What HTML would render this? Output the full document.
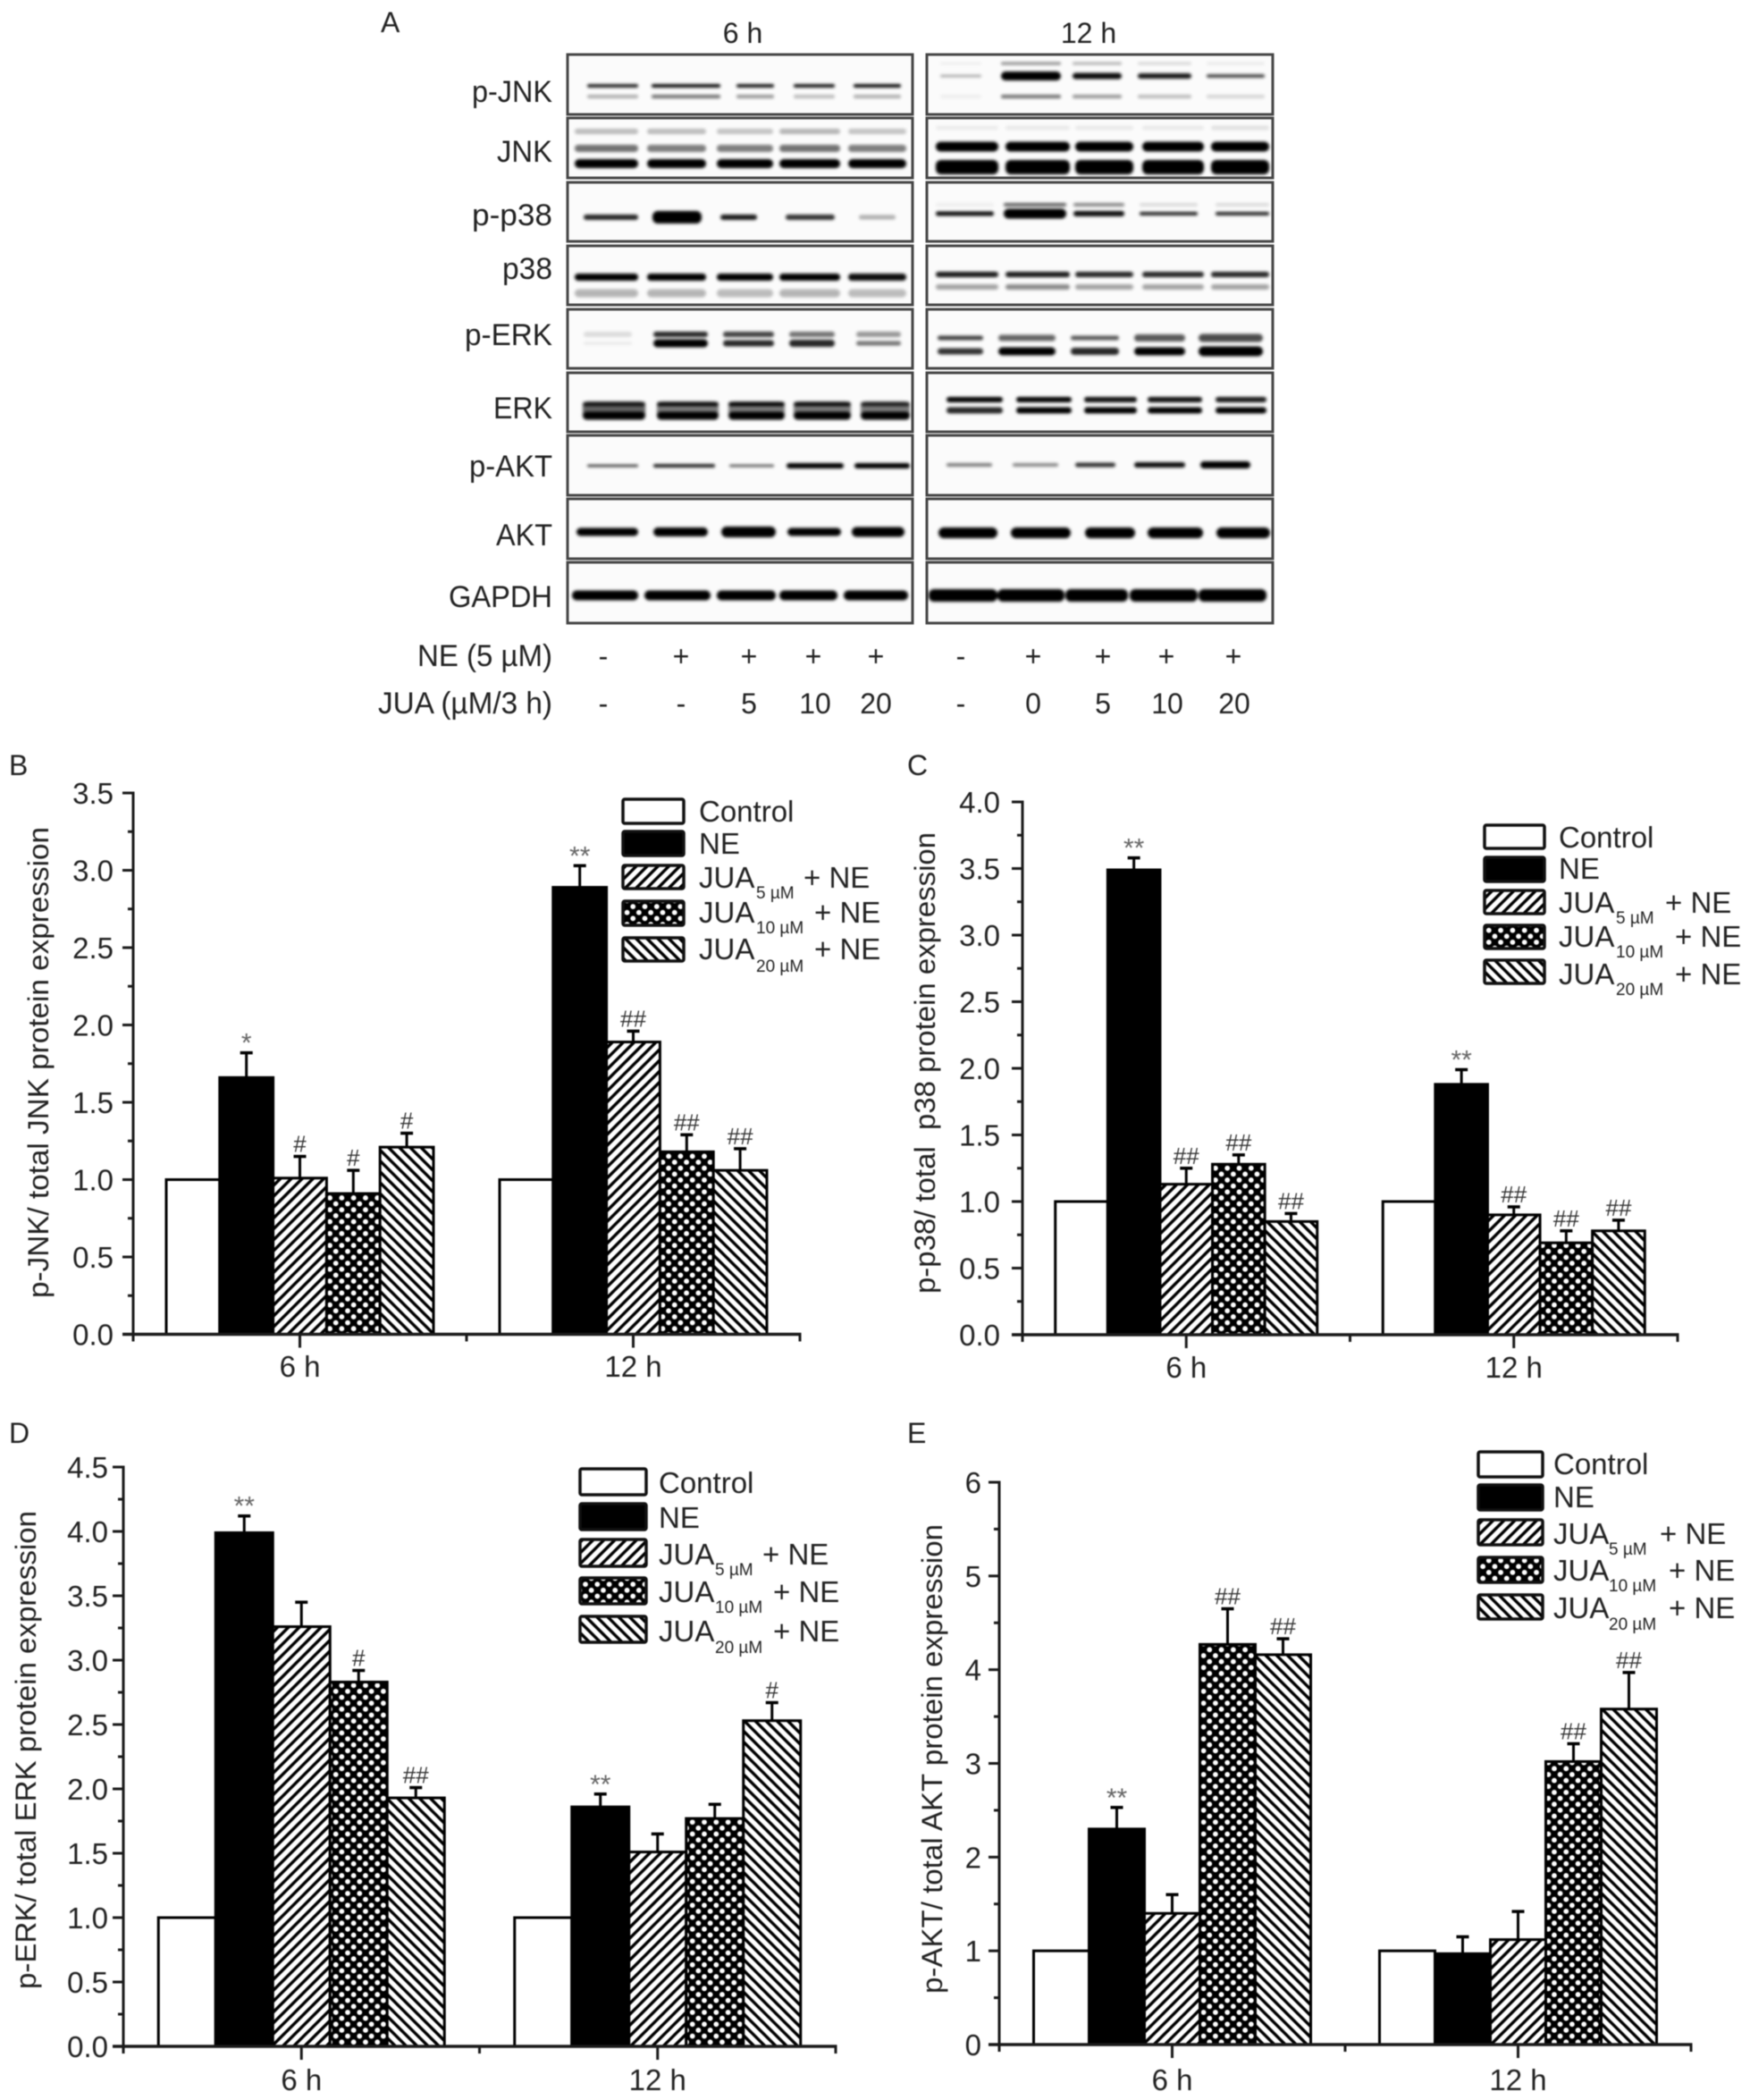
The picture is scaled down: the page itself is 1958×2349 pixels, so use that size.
<!DOCTYPE html>
<html lang="en">
<head>
<meta charset="utf-8">
<title>Western blots and protein expression bar charts</title>
<style>
html,body{margin:0;padding:0;background:#fff;}
svg{display:block;filter:blur(0.6px);}
text{font-family:"Liberation Sans",sans-serif;fill:#222;}
.t{font-size:33px;}
.s{font-size:19px;}
.b{font-size:32px;}
.r{font-size:34px;}
.f{fill:none;stroke:#444;stroke-width:3;}
.l{stroke:#111;stroke-width:3.5;}
.e{text-anchor:end;}
.m{text-anchor:middle;}
</style>
</head>
<body>
<svg id="figure" xmlns="http://www.w3.org/2000/svg" width="1958" height="2349" viewBox="0 0 1958 2349">
<defs>
<pattern id="hatch-up" width="8.6" height="8.6" patternUnits="userSpaceOnUse" patternTransform="rotate(45)"><rect width="8.6" height="8.6" fill="#fff"/><rect width="3.4" height="8.6" fill="#000"/></pattern>
<pattern id="hatch-down" width="8.6" height="8.6" patternUnits="userSpaceOnUse" patternTransform="rotate(-45)"><rect width="8.6" height="8.6" fill="#fff"/><rect width="3.4" height="8.6" fill="#000"/></pattern>
<pattern id="dots" width="13.3" height="13.3" patternUnits="userSpaceOnUse"><rect width="13.3" height="13.3" fill="#000"/><circle cx="3.3" cy="3.3" r="2.9" fill="#fff"/><circle cx="9.95" cy="9.95" r="2.9" fill="#fff"/></pattern>
<filter id="band-blur" x="-20%" y="-100%" width="140%" height="300%"><feGaussianBlur stdDeviation="1.7"/></filter>
</defs>
<rect width="1958" height="2349" fill="#fff"/>

<g>
<text class="b" x="426" y="36">A</text>
<text class="b m" x="831" y="48">6 h</text>
<text class="b m" x="1218" y="48">12 h</text>
<g id="blot-layer"></g>
<text class="r" x="528" y="114" textLength="90" lengthAdjust="spacingAndGlyphs">p-JNK</text>
<text class="r" x="556" y="181" textLength="62" lengthAdjust="spacingAndGlyphs">JNK</text>
<text class="r" x="528" y="252" textLength="90" lengthAdjust="spacingAndGlyphs">p-p38</text>
<text class="r" x="562" y="312" textLength="56" lengthAdjust="spacingAndGlyphs">p38</text>
<text class="r" x="520" y="386" textLength="98" lengthAdjust="spacingAndGlyphs">p-ERK</text>
<text class="r" x="552" y="468" textLength="66" lengthAdjust="spacingAndGlyphs">ERK</text>
<text class="r" x="525" y="533" textLength="93" lengthAdjust="spacingAndGlyphs">p-AKT</text>
<text class="r" x="555" y="610" textLength="63" lengthAdjust="spacingAndGlyphs">AKT</text>
<text class="r" x="502" y="679" textLength="116" lengthAdjust="spacingAndGlyphs">GAPDH</text>
<g class="b">
<text class="r" x="467" y="745" textLength="151" lengthAdjust="spacingAndGlyphs">NE (5 µM)</text>
<text class="b m" x="675" y="745">-</text>
<text class="b m" x="762" y="745">+</text>
<text class="b m" x="838" y="745">+</text>
<text class="b m" x="910" y="745">+</text>
<text class="b m" x="980" y="745">+</text>
<text class="b m" x="1075" y="745">-</text>
<text class="b m" x="1156" y="745">+</text>
<text class="b m" x="1234" y="745">+</text>
<text class="b m" x="1305" y="745">+</text>
<text class="b m" x="1380" y="745">+</text>
</g>
<g>
<text class="r" x="423" y="798" textLength="195" lengthAdjust="spacingAndGlyphs">JUA (µM/3 h)</text>
<text class="b m" x="675" y="798">-</text>
<text class="b m" x="762" y="798">-</text>
<text class="b m" x="838" y="798">5</text>
<text class="b m" x="912" y="798">10</text>
<text class="b m" x="980" y="798">20</text>
<text class="b m" x="1075" y="798">-</text>
<text class="b m" x="1156" y="798">0</text>
<text class="b m" x="1234" y="798">5</text>
<text class="b m" x="1306" y="798">10</text>
<text class="b m" x="1381" y="798">20</text>
</g>
</g>

<g id="chart-jnk">
<text class="b" x="10" y="867">B</text>
<text class="b" transform="translate(54,1452) rotate(-90)" textLength="527" lengthAdjust="spacingAndGlyphs">p-JNK/ total JNK protein expression</text>
</g>
<g>
<g><rect class="l" x="697" y="894" width="68" height="27" rx="2" fill="#fff"/><text class="t" x="782" y="919">Control</text></g>
<g><rect class="l" x="697" y="930" width="68" height="27" rx="2" fill="#000"/><text class="t" x="782" y="955">NE</text></g>
<g><rect class="l" x="697" y="968" width="68" height="26" rx="2" fill="url(#hatch-up)"/><text class="t" x="782" y="993">JUA</text><text class="s" x="846" y="1005">5 µM</text><text class="t" x="899" y="993">+ NE</text></g>
<g><rect class="l" x="697" y="1008" width="68" height="27" rx="2" fill="url(#dots)"/><text class="t" x="782" y="1032">JUA</text><text class="s" x="846" y="1044">10 µM</text><text class="t" x="911" y="1032">+ NE</text></g>
<g><rect class="l" x="697" y="1049" width="68" height="26" rx="2" fill="url(#hatch-down)"/><text class="t" x="782" y="1073">JUA</text><text class="s" x="846" y="1087">20 µM</text><text class="t" x="911" y="1073">+ NE</text></g>
</g>

<g id="chart-p38">
<text class="b" x="1015" y="867">C</text>
<text class="b" style="white-space:pre" transform="translate(1046,1447) rotate(-90)" textLength="516" lengthAdjust="spacingAndGlyphs">p-p38/ total  p38 protein expression</text>
</g>
<g>
<g><rect class="l" x="1661" y="923" width="67" height="26" rx="2" fill="#fff"/><text class="t" x="1744" y="948">Control</text></g>
<g><rect class="l" x="1661" y="959" width="67" height="27" rx="2" fill="#000"/><text class="t" x="1744" y="983">NE</text></g>
<g><rect class="l" x="1661" y="996" width="67" height="26" rx="2" fill="url(#hatch-up)"/><text class="t" x="1744" y="1021">JUA</text><text class="s" x="1808" y="1033">5 µM</text><text class="t" x="1863" y="1021">+ NE</text></g>
<g><rect class="l" x="1661" y="1035" width="67" height="26" rx="2" fill="url(#dots)"/><text class="t" x="1744" y="1059">JUA</text><text class="s" x="1808" y="1071">10 µM</text><text class="t" x="1874" y="1059">+ NE</text></g>
<g><rect class="l" x="1661" y="1074" width="67" height="26" rx="2" fill="url(#hatch-down)"/><text class="t" x="1744" y="1101">JUA</text><text class="s" x="1808" y="1113">20 µM</text><text class="t" x="1874" y="1101">+ NE</text></g>
</g>

<g id="chart-erk">
<text class="b" x="10" y="1614">D</text>
<text class="b" transform="translate(40,2225) rotate(-90)" textLength="535" lengthAdjust="spacingAndGlyphs">p-ERK/ total ERK protein expression</text>
</g>
<g>
<g><rect class="l" x="649" y="1643" width="74" height="29" rx="2" fill="#fff"/><text class="t" x="737" y="1670">Control</text></g>
<g><rect class="l" x="649" y="1682" width="74" height="29" rx="2" fill="#000"/><text class="t" x="737" y="1709">NE</text></g>
<g><rect class="l" x="649" y="1722" width="74" height="30" rx="2" fill="url(#hatch-up)"/><text class="t" x="737" y="1750">JUA</text><text class="s" x="800" y="1762">5 µM</text><text class="t" x="853" y="1750">+ NE</text></g>
<g><rect class="l" x="649" y="1765" width="74" height="29" rx="2" fill="url(#dots)"/><text class="t" x="737" y="1792">JUA</text><text class="s" x="800" y="1804">10 µM</text><text class="t" x="865" y="1792">+ NE</text></g>
<g><rect class="l" x="649" y="1808" width="74" height="29" rx="2" fill="url(#hatch-down)"/><text class="t" x="737" y="1836">JUA</text><text class="s" x="800" y="1849">20 µM</text><text class="t" x="865" y="1836">+ NE</text></g>
</g>

<g id="chart-akt">
<text class="b" x="1015" y="1614">E</text>
<text class="b" transform="translate(1054,2230) rotate(-90)" textLength="525" lengthAdjust="spacingAndGlyphs">p-AKT/ total AKT protein expression</text>
</g>
<g>
<g><rect class="l" x="1654" y="1624" width="72" height="28" rx="2" fill="#fff"/><text class="t" x="1738" y="1649">Control</text></g>
<g><rect class="l" x="1654" y="1661" width="72" height="28" rx="2" fill="#000"/><text class="t" x="1738" y="1686">NE</text></g>
<g><rect class="l" x="1654" y="1700" width="72" height="28" rx="2" fill="url(#hatch-up)"/><text class="t" x="1738" y="1727">JUA</text><text class="s" x="1800" y="1739">5 µM</text><text class="t" x="1857" y="1727">+ NE</text></g>
<g><rect class="l" x="1654" y="1742" width="72" height="28" rx="2" fill="url(#dots)"/><text class="t" x="1738" y="1768">JUA</text><text class="s" x="1800" y="1780">10 µM</text><text class="t" x="1867" y="1768">+ NE</text></g>
<g><rect class="l" x="1654" y="1784" width="72" height="27" rx="2" fill="url(#hatch-down)"/><text class="t" x="1738" y="1810">JUA</text><text class="s" x="1800" y="1823">20 µM</text><text class="t" x="1867" y="1810">+ NE</text></g>
</g>
</svg>

<script>
// Bar chart data: [6 h group, 12 h group], series order Control, NE, JUA 5, JUA 10, JUA 20
const groupLabels = ['6 h', '12 h'];
const seriesNames = ['control', 'ne', 'jua-5', 'jua-10', 'jua-20'];

const jnkTickLabels = ['0.0', '0.5', '1.0', '1.5', '2.0', '2.5', '3.0', '3.5'];
const jnkMeans6h = [1, 1.66, 1.01, 0.91, 1.21];
const jnkMeans12h = [1, 2.89, 1.89, 1.18, 1.06];
const jnkErrors6h = [0, 0.16, 0.14, 0.15, 0.09];
const jnkErrors12h = [0, 0.14, 0.07, 0.11, 0.14];
const jnkMarks6h = ['', '*', '#', '#', '#'];
const jnkMarks12h = ['', '**', '##', '##', '##'];

const p38TickLabels = ['0.0', '0.5', '1.0', '1.5', '2.0', '2.5', '3.0', '3.5', '4.0'];
const p38Means6h = [1, 3.49, 1.13, 1.28, 0.85];
const p38Means12h = [1, 1.88, 0.90, 0.69, 0.78];
const p38Errors6h = [0, 0.09, 0.12, 0.07, 0.06];
const p38Errors12h = [0, 0.11, 0.06, 0.09, 0.08];
const p38Marks6h = ['', '**', '##', '##', '##'];
const p38Marks12h = ['', '**', '##', '##', '##'];

const erkTickLabels = ['0.0', '0.5', '1.0', '1.5', '2.0', '2.5', '3.0', '3.5', '4.0', '4.5'];
const erkMeans6h = [1, 3.99, 3.26, 2.83, 1.93];
const erkMeans12h = [1, 1.86, 1.51, 1.77, 2.53];
const erkErrors6h = [0, 0.13, 0.19, 0.09, 0.08];
const erkErrors12h = [0, 0.10, 0.14, 0.11, 0.14];
const erkMarks6h = ['', '**', '', '#', '##'];
const erkMarks12h = ['', '**', '', '', '#'];

const aktTickLabels = ['0', '1', '2', '3', '4', '5', '6'];
const aktMeans6h = [1, 2.30, 1.40, 4.27, 4.16];
const aktMeans12h = [1, 0.97, 1.12, 3.02, 3.58];
const aktErrors6h = [0, 0.23, 0.20, 0.38, 0.17];
const aktErrors12h = [0, 0.18, 0.30, 0.19, 0.39];
const aktMarks6h = ['', '**', '', '##', '##'];
const aktMarks12h = ['', '', '', '##', '##'];

const seriesFills = ['#fff', '#000', 'url(#hatch-up)', 'url(#dots)', 'url(#hatch-down)'];

const SVGNS = 'http://www.w3.org/2000/svg';
function make(parent, tag, props) {
  const node = document.createElementNS(SVGNS, tag);
  for (const key in props) node.setAttribute(key, props[key]);
  parent.appendChild(node);
  return node;
}

function drawChart(cfg) {
  const root = document.getElementById(cfg.id);
  const yScale = v => cfg.y0 - (v / cfg.yMax) * (cfg.y0 - cfg.yTop);
  const xScale = i => cfg.left + (i + 0.5) * (cfg.right - cfg.left) / groupLabels.length;
  const ink = '#1a1a1a';

  groupLabels.forEach((label, g) => {
    const centre = xScale(g);
    const means = cfg.means[g];
    const errors = cfg.errors[g];
    const marks = cfg.marks[g];
    means.forEach((value, s) => {
      const x = centre + (s - 2.5) * cfg.barW;
      const bar = make(root, 'rect', { x: x, y: yScale(value), width: cfg.barW, height: cfg.y0 - yScale(value), fill: seriesFills[s], stroke: '#000', 'stroke-width': 3 });
      
      
    });
    means.forEach((value, s) => {
      const cx = centre + (s - 2) * cfg.barW;
      const capY = yScale(value + errors[s]);
      if (errors[s] > 0) {
        const stem = make(root, 'line', { x1: cx, x2: cx, y1: yScale(value), y2: capY, stroke: '#000', 'stroke-width': 3 });
        
        
        const cap = make(root, 'line', { x1: cx - 7, x2: cx + 7, y1: capY, y2: capY, stroke: '#000', 'stroke-width': 3.5 });
        
        
      }
      if (marks[s]) {
        const isStar = marks[s].charAt(0) === '*';
        const mark = make(root, 'text', { x: cx, y: isStar ? capY - 1 : capY - 5, 'text-anchor': 'middle', 'font-size': isStar ? 30 : 26 });
        
        
        mark.style.fill = isStar ? '#666' : '#333';
        mark.textContent = marks[s];
      }
    });
    const tick = make(root, 'line', { x1: centre, x2: centre, y1: cfg.y0, y2: cfg.y0 + 15, stroke: ink, 'stroke-width': 3 });
    
    
    const text = make(root, 'text', { x: centre, y: cfg.xLabelY, 'text-anchor': 'middle', 'font-size': 33 });
    
    
    text.textContent = label;
  });

  [cfg.left, (cfg.left + cfg.right) / 2, cfg.right].forEach(x => {
    const minor = make(root, 'line', { x1: x, x2: x, y1: cfg.y0, y2: cfg.y0 + 8, stroke: ink, 'stroke-width': 3 });
    
    
  });

  cfg.ticks.forEach((label, i) => {
    const value = parseFloat(label);
    const y = yScale(value);
    const major = make(root, 'line', { x1: cfg.left - 12, x2: cfg.left, y1: y, y2: y, stroke: ink, 'stroke-width': 3 });
    
    
    const text = make(root, 'text', { x: cfg.labelX, y: y + 12, 'text-anchor': 'end', 'font-size': 33 });
    
    
    text.textContent = label;
    if (i < cfg.ticks.length - 1) {
      const yMinor = yScale((value + parseFloat(cfg.ticks[i + 1])) / 2);
      const minor = make(root, 'line', { x1: cfg.left - 6, x2: cfg.left, y1: yMinor, y2: yMinor, stroke: ink, 'stroke-width': 3 });
      
      
    }
  });

  const yAxis = make(root, 'line', { x1: cfg.left, x2: cfg.left, y1: cfg.yTop - 1.5, y2: cfg.y0 + 1.5, stroke: ink, 'stroke-width': 3 });
  
  
  const xAxis = make(root, 'line', { x1: cfg.left - 12, x2: cfg.right + 1.5, y1: cfg.y0, y2: cfg.y0, stroke: ink, 'stroke-width': 3.5 });
  
  
}

drawChart({ id: 'chart-jnk', key: 'jnk', left: 149, right: 895, y0: 1492.5, yTop: 887, yMax: 3.5, barW: 59.8, labelX: 127, xLabelY: 1540,
  ticks: jnkTickLabels, means: [jnkMeans6h, jnkMeans12h], errors: [jnkErrors6h, jnkErrors12h], marks: [jnkMarks6h, jnkMarks12h] });
drawChart({ id: 'chart-p38', key: 'p38', left: 1144, right: 1877, y0: 1493, yTop: 897, yMax: 4, barW: 58.6, labelX: 1119, xLabelY: 1541,
  ticks: p38TickLabels, means: [p38Means6h, p38Means12h], errors: [p38Errors6h, p38Errors12h], marks: [p38Marks6h, p38Marks12h] });
drawChart({ id: 'chart-erk', key: 'erk', left: 138, right: 935, y0: 2289, yTop: 1641, yMax: 4.5, barW: 64, labelX: 121, xLabelY: 2338,
  ticks: erkTickLabels, means: [erkMeans6h, erkMeans12h], errors: [erkErrors6h, erkErrors12h], marks: [erkMarks6h, erkMarks12h] });
drawChart({ id: 'chart-akt', key: 'akt', left: 1118, right: 1892, y0: 2287, yTop: 1658, yMax: 6, barW: 62, labelX: 1098, xLabelY: 2338,
  ticks: aktTickLabels, means: [aktMeans6h, aktMeans12h], errors: [aktErrors6h, aktErrors12h], marks: [aktMarks6h, aktMarks12h] });

// Western blot membranes: frame rows and band intensities per lane
const blotRows = ['p-jnk', 'jnk', 'p-p38', 'p38', 'p-erk', 'erk', 'p-akt', 'akt', 'gapdh'];
const blotRowTops = [61, 132, 204, 275, 346, 417, 487, 558, 629];
const blotRowBottoms = [128, 199, 270, 341, 412, 483, 554, 625, 697];
const lanesWideL = [[643, 714], [724, 790], [802, 865], [872, 940], [949, 1014]];
const lanesPJnkL = [[657, 714], [729, 806], [824, 866], [888, 934], [955, 1008]];
const lanesPp38L = [[653, 714], [730, 785], [806, 847], [879, 934], [961, 1002]];
const lanesPErkL = [[653, 707], [731, 792], [809, 866], [883, 934], [958, 1008]];
const lanesErkL = [[652, 722], [735, 804], [815, 878], [888, 952], [963, 1018]];
const lanesPAktL = [[657, 714], [731, 800], [816, 866], [880, 944], [956, 1018]];
const lanesAktL = [[645, 714], [731, 792], [807, 868], [881, 941], [953, 1012]];
const lanesGapdhL = [[640, 714], [721, 795], [802, 868], [872, 937], [944, 1016]];
const lanesWideR = [[1047, 1117], [1125, 1197], [1203, 1268], [1278, 1347], [1355, 1420]];
const lanesPJnkR = [[1052, 1098], [1120, 1187], [1200, 1255], [1273, 1333], [1350, 1415]];
const lanesPp38R = [[1047, 1112], [1123, 1193], [1201, 1258], [1275, 1340], [1360, 1420]];
const lanesPErkR = [[1049, 1100], [1117, 1181], [1198, 1252], [1269, 1326], [1341, 1413]];
const lanesErkR = [[1059, 1122], [1137, 1199], [1213, 1272], [1284, 1345], [1360, 1417]];
const lanesPAktR = [[1059, 1110], [1133, 1184], [1203, 1248], [1269, 1326], [1343, 1399]];
const lanesAktR = [[1050, 1116], [1131, 1198], [1214, 1270], [1284, 1346], [1361, 1421]];
const lanesGapdhR = [[1039, 1116], [1116, 1191], [1192, 1262], [1264, 1340], [1341, 1417]];
const blotBands = [
  { lanes: lanesPJnkL, y: 96, t: 4, o: [.85, .95, .9, .9, .95] },
  { lanes: lanesPJnkL, y: 108, t: 4, o: [.3, .55, .4, .25, .3] },
  { lanes: lanesPJnkR, y: 71, t: 3, o: [.05, .45, .3, .15, .07] },
  { lanes: lanesPJnkR, y: 85, t: [3, 10, 7, 6, 4], o: [.3, 1, .95, .9, .7] },
  { lanes: lanesPJnkR, y: 108, t: 4, o: [.05, .55, .4, .25, .15] },
  { lanes: lanesWideL, y: 147, t: 6, o: [.25, .25, .22, .28, .22] },
  { lanes: lanesWideL, y: 166, t: 8, o: [.55, .5, .5, .55, .5] },
  { lanes: lanesWideL, y: 183, t: 10, o: [1, 1, 1, 1, 1] },
  { lanes: lanesWideR, y: 143, t: 5, o: [.06, .07, .07, .07, .1] },
  { lanes: lanesWideR, y: 164, t: 11, o: [1, 1, 1, 1, 1] },
  { lanes: lanesWideR, y: 187, t: 16, o: [1, 1, 1, 1, 1] },
  { lanes: lanesPp38L, y: 243, t: [6, 14, 6, 6, 5], o: [.85, 1, .9, .8, .3] },
  { lanes: lanesPp38R, y: 229, t: 4, o: [.05, .6, .45, .12, .12] },
  { lanes: lanesPp38R, y: 239, t: [5, 11, 6, 4, 4], o: [.95, 1, .95, .85, .85] },
  { lanes: lanesWideL, y: 310, t: 8, o: [1, 1, 1, 1, .95] },
  { lanes: lanesWideL, y: 328, t: 9, o: [.28, .28, .25, .28, .25] },
  { lanes: lanesWideR, y: 307, t: 6, o: [.9, .9, .85, .85, .85] },
  { lanes: lanesWideR, y: 321, t: 6, o: [.35, .45, .35, .35, .35] },
  { lanes: lanesPErkL, y: 374, t: 6, o: [.12, .85, .75, .55, .4] },
  { lanes: lanesPErkL, y: 384, t: [3, 9, 7, 8, 5], o: [.08, 1, .85, .85, .55] },
  { lanes: lanesPErkR, y: 378, t: [5, 7, 5, 8, 9], o: [.75, .6, .65, .65, .7] },
  { lanes: lanesPErkR, y: 393, t: [7, 9, 8, 9, 11], o: [.8, 1, .85, 1, 1] },
  { lanes: lanesErkL, y: 459, t: 20, o: [.6, .5, .5, .5, .5] },
  { lanes: lanesErkL, y: 452, t: 5, o: [.8, .9, .95, .9, .75] },
  { lanes: lanesErkL, y: 465, t: 9, o: [1, 1, 1, 1, 1] },
  { lanes: lanesErkR, y: 447, t: 6, o: [1, 1, .95, .95, .9] },
  { lanes: lanesErkR, y: 459, t: 7, o: [.85, 1, 1, 1, 1] },
  { lanes: lanesPAktL, y: 521, t: [3, 4, 3, 6, 6], o: [.7, .85, .6, 1, 1] },
  { lanes: lanesPAktR, y: 520, t: [4, 4, 5, 6, 8], o: [.5, .45, .8, .95, 1] },
  { lanes: lanesAktL, y: 595, t: [9, 10, 12, 9, 11], o: [1, 1, 1, 1, 1] },
  { lanes: lanesAktR, y: 596, t: 12, o: [1, 1, 1, 1, 1] },
  { lanes: lanesGapdhL, y: 666, t: 11, o: [1, 1, 1, 1, 1] },
  { lanes: lanesGapdhR, y: 666, t: 14, o: [1, 1, 1, 1, 1] }
];

const blotLayer = document.getElementById('blot-layer');
blotRows.forEach((row, r) => {
  [[635, 386, '6h'], [1037, 387, '12h']].forEach(panel => {
    const frame = make(blotLayer, 'rect', { class: 'f', x: panel[0], y: blotRowTops[r], width: panel[1], height: blotRowBottoms[r] - blotRowTops[r], style: 'fill:#fbfbfb' });
    
    
  });
});
const bandGroup = make(blotLayer, 'g', { filter: 'url(#band-blur)' });


blotBands.forEach(band => {
  band.lanes.forEach((lane, i) => {
    const thick = Array.isArray(band.t) ? band.t[i] : band.t;
    const shape = make(bandGroup, 'rect', { x: lane[0], y: band.y - thick / 2, width: lane[1] - lane[0], height: thick, rx: Math.min(thick / 2, 6), fill: '#000', opacity: band.o[i] });
    
    
  });
});
</script>
</body>
</html>
